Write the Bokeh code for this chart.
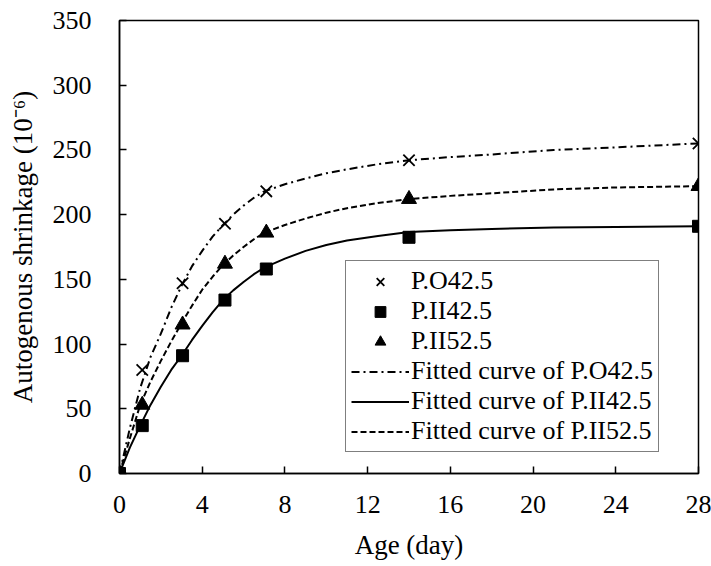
from bokeh.plotting import figure
from bokeh.models import Legend, LegendItem, Range1d, FixedTicker
from bokeh.embed import file_html
from bokeh.resources import INLINE

# Measured data
ages = [0, 1.1, 3.05, 5.1, 7.1, 14, 28]
po425 = [0, 80, 147, 193, 218, 242, 255]
pii425 = [0, 37, 91, 134, 158, 182.5, 191]
pii525 = [0, 53, 115, 162, 186, 212, 222]

# Fitted curves
fit_days = [0, 0.5, 1, 1.5, 2, 2.5, 3, 3.5, 4, 4.5, 5, 5.5, 6, 6.5, 7, 8, 9, 10, 11, 12.5, 14, 16, 18, 21, 24, 28]
fit_po425 = [0, 35, 66, 90, 108, 128, 145, 160, 172, 183, 192, 200, 207, 213, 218, 223.5, 228, 232, 235, 239, 242, 244.5, 246.5, 250, 252, 255]
fit_pii425 = [0, 20, 37, 53, 67, 80, 91, 103, 114, 124.5, 134, 141.5, 148, 154, 159, 166, 172, 176.5, 180, 183.5, 186.5, 188, 189, 190, 190.5, 191]
fit_pii525 = [0, 27, 53, 71, 87, 102, 116, 129.5, 142, 152, 161, 168.5, 175, 181, 186, 192, 197, 201.5, 205, 209, 212, 214.5, 216.5, 219.5, 221, 222]

x_ticks = [0, 4, 8, 12, 16, 20, 24, 28]
y_ticks = [0, 50, 100, 150, 200, 250, 300, 350]

FONT = "Liberation Serif"

p = figure(width=711, height=566, output_backend="svg", toolbar_location=None,
           x_range=Range1d(0, 28), y_range=Range1d(0, 350),
           min_border_left=119, min_border_right=13, min_border_top=20, min_border_bottom=93)
p.xgrid.visible = False
p.ygrid.visible = False
p.outline_line_color = "black"
p.outline_line_width = 1.5
p.background_fill_color = "white"
p.border_fill_color = "white"

for ax in (p.xaxis[0], p.yaxis[0]):
    ax.axis_line_color = "black"
    ax.axis_line_width = 1.5
    ax.major_tick_in = 7
    ax.major_tick_out = 0
    ax.major_tick_line_width = 1.5
    ax.minor_tick_line_color = None
    ax.major_label_text_font = FONT
    ax.major_label_text_font_size = "26px"
    ax.major_label_text_color = "black"
    ax.axis_label_text_font = FONT
    ax.axis_label_text_font_size = "27px"
    ax.axis_label_text_font_style = "normal"
    ax.axis_label_text_color = "black"

p.xaxis[0].ticker = FixedTicker(ticks=x_ticks)
p.yaxis[0].ticker = FixedTicker(ticks=y_ticks)
p.xaxis[0].axis_label = "Age (day)"
p.yaxis[0].axis_label = "Autogenous shrinkage (10\u207b\u2076)"
p.xaxis[0].major_label_standoff = 22
p.yaxis[0].major_label_standoff = 28
p.xaxis[0].axis_label_standoff = 14
p.yaxis[0].axis_label_standoff = 12

l_po = p.line(fit_days, fit_po425, line_color="black", line_width=2, line_dash="8 4 2 4")
l_ii4 = p.line(fit_days, fit_pii425, line_color="black", line_width=2)
l_ii5 = p.line(fit_days, fit_pii525, line_color="black", line_width=2, line_dash="6 3")

s_po = p.scatter(ages, po425, marker="x", size=16, line_color="black", line_width=1.8)
s_ii4 = p.scatter(ages, pii425, marker="square", size=12, fill_color="black", line_color="black")
s_ii5 = p.scatter(ages, pii525, marker="triangle", size=15, fill_color="black", line_color="black")

legend = Legend(items=[
    LegendItem(label="P.O42.5", renderers=[s_po]),
    LegendItem(label="P.II42.5", renderers=[s_ii4]),
    LegendItem(label="P.II52.5", renderers=[s_ii5]),
    LegendItem(label="Fitted curve of P.O42.5", renderers=[l_po]),
    LegendItem(label="Fitted curve of P.II42.5", renderers=[l_ii4]),
    LegendItem(label="Fitted curve of P.II52.5", renderers=[l_ii5]),
], location=(226, 21))
legend.label_text_font = FONT
legend.label_text_font_size = "26px"
legend.label_text_color = "black"
legend.glyph_width = 58
legend.glyph_height = 27
legend.label_height = 27
legend.label_standoff = 2
legend.spacing = 0
legend.padding = 5
legend.margin = 0
legend.border_line_color = "black"
legend.border_line_width = 1.5
legend.background_fill_alpha = 1
p.add_layout(legend, "center")

open("out.html", "w").write(file_html(p, INLINE))
